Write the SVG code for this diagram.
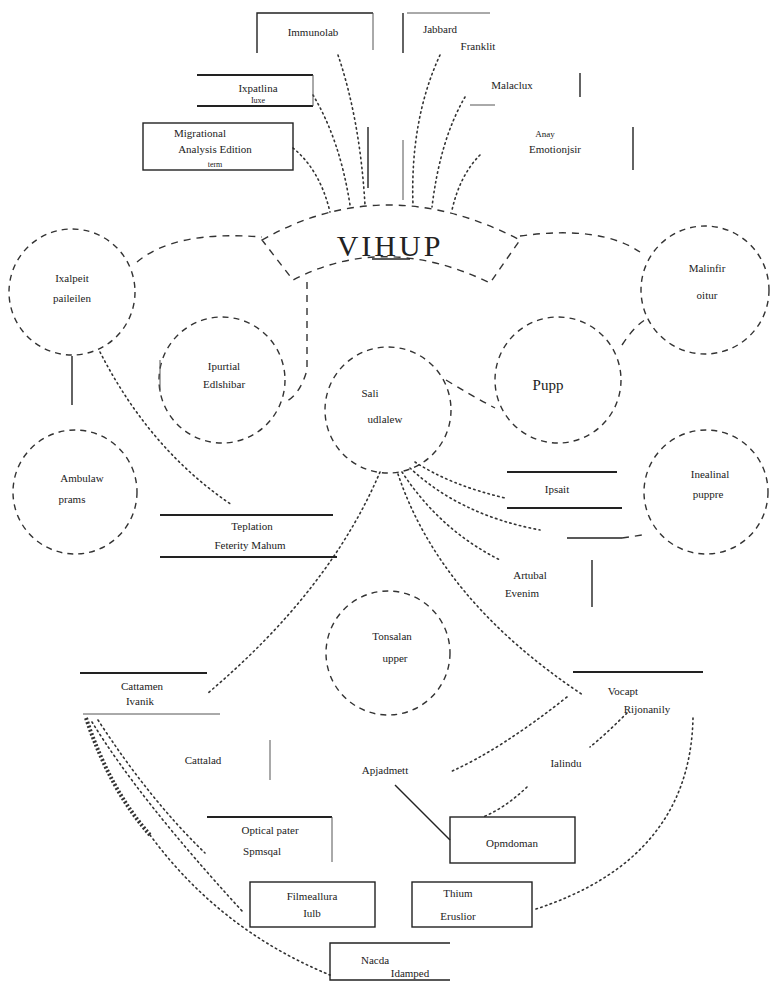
<svg xmlns="http://www.w3.org/2000/svg" width="773" height="985" viewBox="0 0 773 985">
<style>
text{font-family:"Liberation Serif","DejaVu Serif",serif;font-size:11px;fill:#222;text-anchor:middle}
.big{font-size:30px;letter-spacing:3px}
.circ{fill:none;stroke:#333;stroke-width:1.4;stroke-dasharray:6 5}
.box{fill:none;stroke:#222;stroke-width:1.4}
.rule{stroke:#222;stroke-width:1.8}
.thin{stroke:#555;stroke-width:1}
.dot{fill:none;stroke:#333;stroke-width:1.6;stroke-dasharray:1.5 3.5;stroke-linecap:round}
.dash{fill:none;stroke:#333;stroke-width:1.4;stroke-dasharray:7 6}
.solid{fill:none;stroke:#222;stroke-width:1.4}
.hatch{fill:none;stroke:#333;stroke-width:4;stroke-dasharray:2 2}
</style>
<rect width="773" height="985" fill="#fff"/>

<g id="connectors">
  <path class="dot" d="M338,55 Q360,120 365,205"/>
  <line class="solid" x1="368" y1="127" x2="368" y2="188"/>
  <path class="dot" d="M313,95 Q340,140 350,205"/>
  <path class="dot" d="M293,148 Q320,170 330,212"/>
  <path class="dot" d="M440,55 Q410,120 413,205"/>
  <line class="thin" x1="403" y1="140" x2="403" y2="200"/>
  <path class="dot" d="M465,97 Q440,140 432,207"/>
  <path class="dot" d="M480,155 Q460,175 452,210"/>
  <path class="dash" d="M137,262 Q175,230 262,237"/>
  <path class="dash" d="M520,236 Q600,225 640,252"/>
  <path class="dash" d="M307,282 L307,370 Q300,395 285,402"/>
  <line class="solid" x1="72" y1="356" x2="72" y2="405"/>
  <path class="dot" d="M100,352 Q150,450 232,505"/>
  <path class="dash" d="M446,380 Q472,396 495,408"/>
  <path class="dash" d="M622,345 Q635,325 648,318"/>
  <path class="dot" d="M415,462 Q450,485 505,498"/>
  <path class="dot" d="M410,468 Q460,515 540,530"/>
  <line class="solid" x1="567" y1="538" x2="622" y2="538"/>
  <path class="dash" d="M622,538 L642,535"/>
  <path class="dot" d="M402,472 Q440,530 500,560"/>
  <path class="dot" d="M398,474 Q440,600 583,695"/>
  <path class="dot" d="M380,472 Q330,590 208,693"/>
  <path class="dot" d="M567,697 Q500,750 450,772"/>
  <path class="dot" d="M627,713 Q605,735 590,747"/>
  <path class="dot" d="M527,787 Q505,808 483,817"/>
  <path class="dot" d="M693,718 Q690,860 533,910"/>
  <line class="solid" x1="395" y1="785" x2="450" y2="840"/>
  <path class="hatch" d="M86,718 Q110,790 150,835"/>
  <path class="dot" d="M150,835 Q220,930 330,975"/>
  <path class="dot" d="M92,722 Q140,800 243,912"/>
  <path class="dot" d="M98,720 Q150,800 205,853"/>
</g>

<g id="banner">
  <path class="dash" d="M262,240 Q385,170 520,240 L490,283 Q385,232 293,280 Z"/>
  <text class="big" x="390" y="256">VIHUP</text>
  <line class="solid" x1="372" y1="259" x2="410" y2="259"/>
</g>

<g id="box-immunolab">
  <path class="box" d="M257,53 L257,13 L373,13"/>
  <path class="thin" d="M373,13 L373,50"/>
  <text x="313" y="36">Immunolab</text>
</g>
<g id="box-jabbard">
  <path class="box" d="M403,13 L403,53"/>
  <line class="thin" x1="407" y1="13" x2="490" y2="13"/>
  <text x="440" y="33">Jabbard</text>
  <text x="478" y="50">Franklit</text>
</g>
<g id="box-ixpatlina">
  <line class="rule" x1="197" y1="75" x2="313" y2="75"/>
  <line class="rule" x1="197" y1="106" x2="313" y2="106"/>
  <line class="thin" x1="313" y1="75" x2="313" y2="106"/>
  <text x="258" y="92">Ixpatlina</text>
  <text x="258" y="103" style="font-size:8px">Iuxe</text>
</g>
<g id="box-migrational">
  <rect class="box" x="143" y="123" width="150" height="47"/>
  <text x="200" y="137">Migrational</text>
  <text x="215" y="153">Analysis Edition</text>
  <text x="215" y="167" style="font-size:8px">term</text>
</g>
<g id="label-malaclux">
  <text x="512" y="89">Malaclux</text>
  <line class="thin" x1="470" y1="105" x2="495" y2="105"/>
  <line class="solid" x1="580" y1="73" x2="580" y2="97"/>
</g>
<g id="label-anay">
  <text x="545" y="137" style="font-size:9px">Anay</text>
  <text x="555" y="153">Emotionjsir</text>
  <line class="solid" x1="633" y1="127" x2="633" y2="170"/>
</g>

<g id="c1"><circle class="circ" cx="72" cy="292" r="63"/><text x="72" y="282">Ixalpeit</text><text x="72" y="302">paileilen</text></g>
<g id="c2"><circle class="circ" cx="222" cy="380" r="63"/><text x="224" y="370">Ipurtial</text><text x="224" y="388">Edlshibar</text><line class="thin" x1="160" y1="360" x2="160" y2="392"/></g>
<g id="c3"><circle class="circ" cx="75" cy="492" r="62"/><text x="82" y="482">Ambulaw</text><text x="72" y="503">prams</text></g>
<g id="c4"><circle class="circ" cx="388" cy="410" r="63"/><text x="370" y="397">Sali</text><text x="385" y="423">udlalew</text></g>
<g id="c5"><circle class="circ" cx="558" cy="380" r="63"/><text x="548" y="390" style="font-size:15px">Pupp</text></g>
<g id="c6"><circle class="circ" cx="705" cy="290" r="64"/><text x="707" y="272">Malinfir</text><text x="707" y="299">oitur</text></g>
<g id="c7"><circle class="circ" cx="706" cy="492" r="62"/><text x="710" y="478">Inealinal</text><text x="708" y="498">puppre</text></g>
<g id="c8"><circle class="circ" cx="388" cy="653" r="62"/><text x="392" y="640">Tonsalan</text><text x="395" y="662">upper</text></g>

<g id="label-teplation">
  <line class="rule" x1="160" y1="515" x2="333" y2="515"/>
  <line class="rule" x1="160" y1="557" x2="337" y2="557"/>
  <text x="252" y="530">Teplation</text>
  <text x="250" y="549">Feterity Mahum</text>
</g>
<g id="label-ipsait">
  <line class="rule" x1="507" y1="472" x2="617" y2="472"/>
  <line class="rule" x1="507" y1="508" x2="622" y2="508"/>
  <text x="557" y="493">Ipsait</text>
</g>
<g id="label-artubal">
  <text x="530" y="579">Artubal</text>
  <text x="522" y="597">Evenim</text>
  <line class="solid" x1="592" y1="560" x2="592" y2="607"/>
</g>
<g id="label-cattamen">
  <line class="rule" x1="80" y1="673" x2="207" y2="673"/>
  <line class="thin" x1="83" y1="714" x2="220" y2="714"/>
  <text x="142" y="690">Cattamen</text>
  <text x="140" y="705">Ivanik</text>
</g>
<g id="label-cattalad">
  <text x="203" y="764">Cattalad</text>
  <line class="thin" x1="270" y1="740" x2="270" y2="780"/>
</g>
<g id="label-apjadmett"><text x="385" y="774">Apjadmett</text></g>
<g id="label-vocapt">
  <line class="rule" x1="573" y1="672" x2="703" y2="672"/>
  <text x="623" y="695">Vocapt</text>
  <text x="647" y="713">Rijonanily</text>
</g>
<g id="label-ialindu"><text x="566" y="767">Ialindu</text></g>
<g id="box-opmdoman"><rect class="box" x="450" y="817" width="125" height="46"/><text x="512" y="847">Opmdoman</text></g>
<g id="box-optical">
  <line class="rule" x1="207" y1="817" x2="332" y2="817"/>
  <line class="thin" x1="332" y1="817" x2="332" y2="862"/>
  <text x="270" y="834">Optical pater</text>
  <text x="262" y="855">Spmsqal</text>
</g>
<g id="box-filmeallura"><rect class="box" x="250" y="882" width="125" height="45"/><text x="312" y="900">Filmeallura</text><text x="312" y="917">Iulb</text></g>
<g id="box-thium"><rect class="box" x="412" y="882" width="120" height="45"/><text x="458" y="897">Thium</text><text x="458" y="920">Eruslior</text></g>
<g id="box-nacda"><path class="box" d="M450,943 L330,943 L330,980 L450,980"/><text x="375" y="964">Nacda</text><text x="410" y="977">Idamped</text></g>
</svg>
